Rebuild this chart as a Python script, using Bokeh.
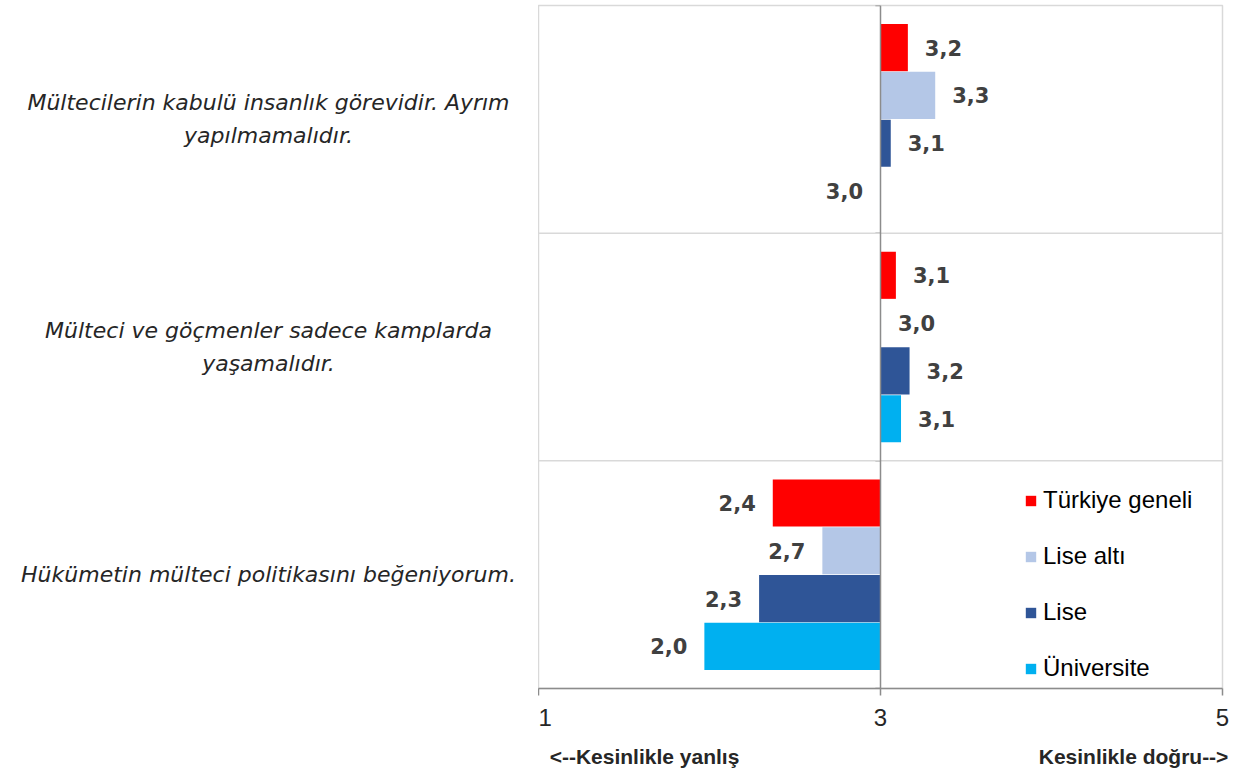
from bokeh.plotting import figure
from bokeh.models import Range1d, Legend, LegendItem, ColumnDataSource, FixedTicker, Span, LinearAxis
from bokeh.layouts import row
from bokeh.core.properties import value
from bokeh.embed import file_html
from bokeh.resources import INLINE

statements = [
    "Mültecilerin kabulü insanlık görevidir. Ayrım\nyapılmamalıdır.",
    "Mülteci ve göçmenler sadece kamplarda\nyaşamalıdır.",
    "Hükümetin mülteci politikasını beğeniyorum.",
]
series = ["Türkiye geneli", "Lise altı", "Lise", "Üniversite"]
colors = ["#FF0000", "#B4C7E7", "#2F5597", "#00B0F0"]
turkiye = [3.16, 3.09, 2.37]
lise_alti = [3.32, 3.003, 2.66]
lise = [3.06, 3.17, 2.29]
universite = [2.997, 3.12, 1.97]
values = [turkiye, lise_alti, lise, universite]
x_ticks = [1, 3, 5]
left_note = "<--Kesinlikle yanlış"
right_note = "Kesinlikle doğru-->"

MID = 3
n = len(statements)
bar_h = 0.207
offsets = [0.315, 0.105, -0.105, -0.315]
TOP, BOTTOM = 5, 88
H = 776

yr = Range1d(0, n)

# ---- left panel with statements
lp = figure(width=538, height=H, output_backend="svg", toolbar_location=None,
            x_range=Range1d(0, 538), y_range=yr, x_axis_location=None, y_axis_location=None,
            min_border_left=0, min_border_right=0, min_border_top=TOP, min_border_bottom=BOTTOM)
lp.outline_line_color = None
lp.grid.visible = False
lsrc = ColumnDataSource(dict(x=[268] * n, y=[n - 0.5 - i for i in range(n)], t=statements))
lp.text(x="x", y="y", text="t", source=lsrc, text_align="center", text_baseline="middle",
        text_font=value("DejaVu Sans"), text_font_style="italic", text_font_size="22px",
        text_color="#262626", text_line_height=1.32)

# ---- main chart
p = figure(width=697, height=H, output_backend="svg", toolbar_location=None,
           x_range=Range1d(1, 5), y_range=yr, y_axis_location=None,
           min_border_left=0, min_border_right=13, min_border_top=TOP, min_border_bottom=BOTTOM)
p.background_fill_color = "white"
p.outline_line_color = "#D9D9D9"
p.outline_line_width = 1.5
p.grid.visible = False

for k in range(1, n):
    p.add_layout(Span(location=k, dimension="width", line_color="#D9D9D9", line_width=1.5))

items = []
for si, (name, col, vals) in enumerate(zip(series, colors, values)):
    ys = [n - 0.5 - i + offsets[si] for i in range(n)]
    txt = [f"{v:.1f}".replace(".", ",") for v in vals]
    src = ColumnDataSource(dict(y=ys, right=vals, txt=txt))
    r = p.hbar(y="y", left=MID, right="right", height=bar_h, source=src,
               fill_color=col, line_color=None)
    items.append(LegendItem(label=name, renderers=[r]))
    pos = [i for i, v in enumerate(vals) if v >= MID]
    neg = [i for i, v in enumerate(vals) if v < MID]
    for idxs, align, off in ((pos, "left", 17), (neg, "right", -17)):
        if not idxs:
            continue
        s2 = ColumnDataSource(dict(x=[vals[i] for i in idxs], y=[ys[i] for i in idxs],
                                   t=[txt[i] for i in idxs]))
        p.text(x="x", y="y", text="t", source=s2, x_offset=off, text_align=align,
               text_baseline="middle", text_font=value("DejaVu Sans"),
               text_font_style="bold", text_font_size="21px", text_color="#404040")

p.add_layout(Span(location=MID, dimension="height", line_color="#8C8C8C", line_width=1.5))
p.segment(x0=[MID - 0.03] * (n + 1), x1=[MID] * (n + 1), y0=list(range(n + 1)),
          y1=list(range(n + 1)), line_color="#8C8C8C", line_width=1.5)

p.xaxis.ticker = FixedTicker(ticks=x_ticks)
p.xaxis.minor_tick_line_color = None
p.xaxis.major_tick_in = 0
p.xaxis.major_tick_out = 7
p.xaxis.axis_line_color = "#8C8C8C"
p.xaxis.axis_line_width = 1.5
p.xaxis.major_tick_line_color = "#8C8C8C"
p.xaxis.major_tick_line_width = 1.5
p.xaxis.major_label_text_font = "Liberation Sans"
p.xaxis.major_label_text_font_size = "24px"
p.xaxis.major_label_text_color = "#262626"
p.xaxis.major_label_standoff = 13

# notes under the axis
note_ax = LinearAxis(ticker=FixedTicker(ticks=[1.62, 4.48]),
                     major_label_overrides={1.62: left_note, 4.48: right_note},
                     axis_line_color=None, major_tick_line_color=None,
                     minor_tick_line_color=None, major_label_standoff=10,
                     major_label_text_font="Liberation Sans",
                     major_label_text_font_style="bold",
                     major_label_text_font_size="21px",
                     major_label_text_color="#262626")
p.add_layout(note_ax, "below")

legend = Legend(items=items, location=(486, 6), orientation="vertical",
                glyph_width=13, glyph_height=13, label_standoff=6, spacing=28,
                padding=0, margin=0, label_height=20,
                label_text_font="Liberation Sans", label_text_font_size="24px",
                label_text_color="#000000", border_line_alpha=0,
                background_fill_alpha=0)
p.add_layout(legend)

layout = row(lp, p)
open("out.html", "w").write(file_html(layout, INLINE))
